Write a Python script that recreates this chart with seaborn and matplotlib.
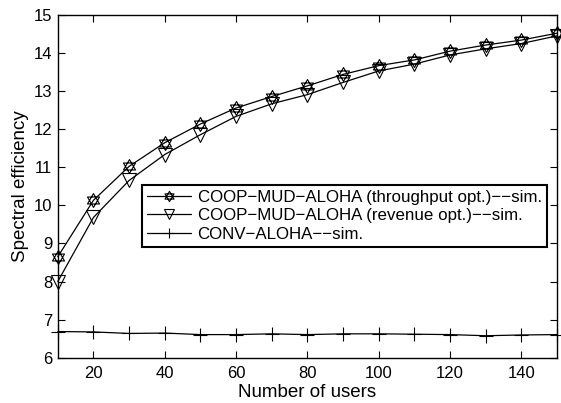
import numpy as np
import pandas as pd
import matplotlib
matplotlib.use("Agg")
import matplotlib.pyplot as plt
from matplotlib.path import Path
import seaborn as sns

users = [10, 20, 30, 40, 50, 60, 70, 80, 90, 100, 110, 120, 130, 140, 150]
thr_opt = [8.65, 10.13, 11.02, 11.64, 12.13, 12.55, 12.85, 13.13, 13.43, 13.66, 13.81, 14.04, 14.2, 14.33, 14.51]
rev_opt = [8.0, 9.68, 10.65, 11.33, 11.85, 12.33, 12.66, 12.9, 13.22, 13.52, 13.7, 13.94, 14.1, 14.24, 14.44]
conv = [6.69, 6.68, 6.64, 6.65, 6.61, 6.61, 6.63, 6.61, 6.63, 6.63, 6.62, 6.61, 6.58, 6.6, 6.61]

labels = ["COOP\u2212MUD\u2212ALOHA (throughput opt.)\u2212\u2212sim.",
          "COOP\u2212MUD\u2212ALOHA (revenue opt.)\u2212\u2212sim.",
          "CONV\u2212ALOHA\u2212\u2212sim."]
xticks = [20, 40, 60, 80, 100, 120, 140]
yticks = [6, 7, 8, 9, 10, 11, 12, 13, 14, 15]

sns.set_theme(style="white")
plt.rcParams['font.family'] = ['Liberation Sans', 'DejaVu Sans']
plt.rcParams['axes.unicode_minus'] = True
plt.rcParams['text.color'] = 'black'
plt.rcParams['axes.labelcolor'] = 'black'
plt.rcParams['xtick.color'] = 'black'
plt.rcParams['ytick.color'] = 'black'

# hexagram marker (two overlapping triangles)
a = 0.866
verts = [(0, 1), (-a, -0.5), (a, -0.5), (0, 1),
         (0, -1), (-a, 0.5), (a, 0.5), (0, -1)]
codes = [Path.MOVETO, Path.LINETO, Path.LINETO, Path.CLOSEPOLY] * 2
hexagram = Path(verts, codes)

fig = plt.figure(figsize=(5.61, 4.03), dpi=100)
ax = fig.add_axes([0.103, 0.112, 0.89, 0.852])

df = pd.DataFrame({"users": users, "thr": thr_opt, "rev": rev_opt, "conv": conv})
common = dict(color="black", linewidth=0.9, markerfacecolor="none",
              markeredgecolor="black", markeredgewidth=0.8, clip_on=False)
sns.lineplot(data=df, x="users", y="thr", ax=ax, marker=hexagram, markersize=10,
             label=labels[0], **common)
sns.lineplot(data=df, x="users", y="rev", ax=ax, marker="v", markersize=9.5,
             label=labels[1], **common)
sns.lineplot(data=df, x="users", y="conv", ax=ax, marker="+", markersize=10,
             label=labels[2], **common)

ax.set_xlim(10, 150)
ax.set_ylim(6, 15)
ax.set_xticks(xticks)
ax.set_yticks(yticks)
ax.set_xlabel("Number of users", fontsize=13.5, labelpad=2, color="black")
ax.set_ylabel("Spectral efficiency", fontsize=13.5, labelpad=3, color="black")
ax.tick_params(direction="in", length=5, width=0.8, labelsize=12,
               top=True, right=True, bottom=True, left=True,
               colors="black", labelcolor="black")
ax.tick_params(axis="x", pad=6)
ax.tick_params(axis="y", pad=4)
for s in ax.spines.values():
    s.set_visible(True)
    s.set_color("black")
    s.set_linewidth(1.0)

leg = ax.legend(loc="upper left", bbox_to_anchor=(0.168, 0.504), fontsize=12.2,
                frameon=True, fancybox=False, edgecolor="black", framealpha=1,
                handlelength=2.6, borderpad=0.3, labelspacing=0.2,
                handletextpad=0.4, borderaxespad=0, markerscale=0.75,
                labelcolor="black")
leg.get_frame().set_linewidth(1.5)

fig.savefig("out.png", dpi=100, facecolor="white")
